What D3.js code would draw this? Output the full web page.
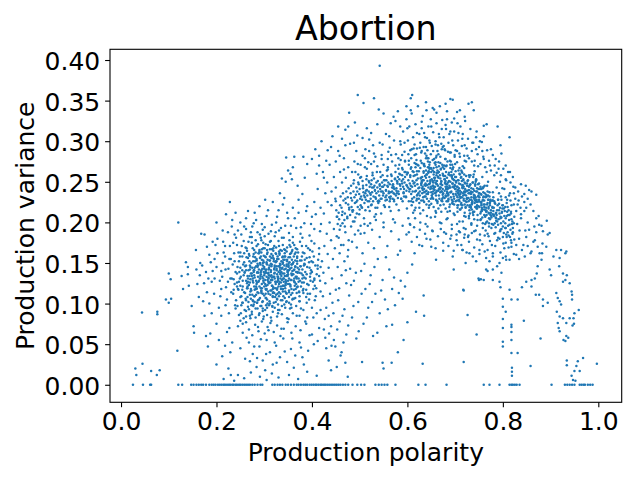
<!DOCTYPE html>
<html>
<head>
<meta charset="utf-8">
<script src="https://cdn.jsdelivr.net/npm/d3@7"></script>
<style>
html,body{margin:0;padding:0;background:#fff;}
svg{display:block;}
text{font-family:"DejaVu Sans",sans-serif;fill:#000;}
</style>
</head>
<body>
<svg id="chart" width="640" height="480"></svg>
<script>
// ---- data ----
const title = "Abortion";
const xLabel = "Production polarity";
const yLabel = "Production variance";
const xTicks = [0, 0.2, 0.4, 0.6, 0.8, 1.0];
const yTicks = [0, 0.05, 0.10, 0.15, 0.20, 0.25, 0.30, 0.35, 0.40];

// points lying on variance = 0 (x values)
const zeroRowX = [0.025,0.046,0.061,0.063,0.12,0.128,0.147,0.152,0.158,0.163,0.168,0.172,0.178,0.185,0.19,0.194,0.198,0.203,0.207,0.211,0.215,0.218,0.222,0.226,0.229,0.233,0.236,0.24,0.243,0.247,0.25,0.254,0.258,0.262,0.266,0.27,0.275,0.28,0.286,0.292,0.296,0.317,0.322,0.328,0.333,0.338,0.345,0.35,0.356,0.362,0.368,0.372,0.377,0.382,0.386,0.39,0.395,0.399,0.403,0.407,0.41,0.414,0.418,0.421,0.425,0.428,0.432,0.436,0.44,0.444,0.448,0.452,0.456,0.46,0.465,0.47,0.476,0.485,0.495,0.503,0.51,0.533,0.54,0.546,0.552,0.558,0.575,0.623,0.638,0.682,0.76,0.772,0.793,0.814,0.818,0.821,0.825,0.829,0.835,0.902,0.93,0.935,0.94,0.945,0.95,0.961,0.965,0.969,0.972,0.978,0.983,0.988];

const leftSparse = [[0.03,0.02],[0.032,0.012],[0.045,0.026],[0.063,0.017],[0.075,0.012],[0.081,0.018],[0.044,0.089],[0.076,0.09],[0.076,0.087],[0.094,0.105],[0.1,0.101],[0.105,0.106],[0.1,0.137],[0.104,0.13],[0.12,0.2],[0.118,0.042],[0.136,0.151],[0.14,0.145],[0.14,0.136],[0.127,0.134],[0.13,0.118],[0.142,0.122],[0.148,0.097],[0.152,0.072],[0.153,0.064],[0.16,0.124],[0.163,0.108],[0.157,0.166],[0.166,0.15],[0.17,0.147],[0.168,0.186],[0.175,0.185],[0.18,0.17],[0.178,0.139],[0.183,0.131],[0.18,0.114],[0.185,0.1],[0.175,0.085],[0.178,0.06],[0.182,0.047],[0.187,0.063],[0.19,0.088],[0.19,0.127],[0.192,0.14],[0.196,0.155],[0.198,0.172],[0.2,0.2],[0.202,0.18],[0.195,0.112],[0.205,0.095],[0.21,0.14],[0.207,0.128],[0.213,0.15],[0.215,0.163],[0.213,0.19],[0.22,0.21],[0.218,0.171],[0.22,0.12],[0.222,0.105],[0.225,0.143],[0.226,0.088],[0.227,0.07],[0.23,0.155],[0.232,0.195],[0.235,0.175],[0.236,0.13],[0.233,0.052],[0.205,0.055],[0.212,0.035],[0.218,0.048],[0.225,0.02],[0.229,0.04],[0.222,0.065],[0.2,0.025],[0.215,0.007],[0.23,0.012],[0.228,0.225],[0.24,0.212],[0.21,0.118],[0.2,0.145],[0.185,0.16],[0.238,0.185],[0.245,0.19],
[0.212,0.133],[0.218,0.158],[0.224,0.127],[0.228,0.171],[0.231,0.114],[0.234,0.148],[0.237,0.162],[0.239,0.098],[0.241,0.181],[0.243,0.121],[0.202,0.162],[0.208,0.109],[0.214,0.176],[0.219,0.142],[0.224,0.188],[0.229,0.131],[0.233,0.203],[0.236,0.117],[0.24,0.139],[0.196,0.131],[0.188,0.151],[0.192,0.176],[0.174,0.125],[0.165,0.135],[0.158,0.142],[0.172,0.103],[0.2,0.075],[0.21,0.085],[0.219,0.098],[0.227,0.155]];

const clusterA = [[0.262,0.205],[0.28,0.212],[0.29,0.22],[0.305,0.208],[0.318,0.225],[0.33,0.215],[0.342,0.23],[0.35,0.205],[0.36,0.218],[0.372,0.212],[0.38,0.235],[0.39,0.22],[0.4,0.207],[0.37,0.245],[0.355,0.26],[0.345,0.25],[0.385,0.255],[0.4,0.278],[0.39,0.272],[0.41,0.26],[0.325,0.2],[0.295,0.198],[0.25,0.2],[0.275,0.195],[0.346,0.28],[0.363,0.281],[0.35,0.264],[0.36,0.268],[0.358,0.253],[0.337,0.254],[0.333,0.236],
[0.252,0.185],[0.262,0.192],[0.27,0.182],[0.278,0.199],[0.286,0.188],[0.293,0.181],[0.301,0.194],[0.309,0.186],[0.316,0.197],[0.322,0.183],[0.331,0.19],[0.337,0.181],[0.344,0.196],[0.352,0.187],[0.36,0.182],[0.367,0.193],[0.376,0.186],[0.384,0.199],[0.395,0.184],[0.405,0.192],
[0.243,0.172],[0.25,0.163],[0.257,0.177],[0.263,0.168],[0.268,0.161],[0.274,0.175],[0.279,0.166],[0.284,0.171],[0.289,0.162],[0.294,0.178],[0.298,0.168],[0.303,0.173],[0.307,0.163],[0.312,0.176],[0.316,0.167],[0.321,0.171],[0.325,0.161],[0.33,0.177],[0.334,0.166],[0.339,0.172],[0.343,0.162],[0.348,0.169],[0.353,0.178],[0.358,0.164],[0.363,0.172],[0.369,0.167],[0.375,0.176],[0.381,0.163],[0.388,0.171],[0.396,0.166],[0.405,0.174],[0.415,0.168],
[0.238,0.152],[0.244,0.145],[0.249,0.158],[0.254,0.141],[0.258,0.151],[0.262,0.147],[0.266,0.156],[0.27,0.142],[0.273,0.15],[0.277,0.158],[0.28,0.144],[0.284,0.153],[0.287,0.147],[0.291,0.156],[0.294,0.141],[0.297,0.15],[0.3,0.145],[0.303,0.157],[0.306,0.148],[0.309,0.142],[0.312,0.153],[0.315,0.146],[0.318,0.159],[0.321,0.143],[0.324,0.151],[0.327,0.155],[0.33,0.146],[0.333,0.141],[0.336,0.152],[0.339,0.158],[0.342,0.147],[0.345,0.143],[0.348,0.154],[0.351,0.149],[0.354,0.157],[0.357,0.144],[0.361,0.151],[0.365,0.146],[0.369,0.158],[0.373,0.142],[0.378,0.153],[0.383,0.147],[0.389,0.156],[0.395,0.144],[0.402,0.151],[0.412,0.147],
[0.232,0.131],[0.238,0.124],[0.243,0.137],[0.247,0.127],[0.251,0.133],[0.255,0.121],[0.259,0.138],[0.262,0.128],[0.265,0.134],[0.268,0.123],[0.271,0.13],[0.274,0.137],[0.277,0.126],[0.28,0.132],[0.283,0.121],[0.286,0.139],[0.289,0.128],[0.292,0.134],[0.295,0.124],[0.298,0.131],[0.301,0.137],[0.304,0.122],[0.307,0.129],[0.31,0.135],[0.313,0.126],[0.316,0.132],[0.319,0.12],[0.322,0.138],[0.325,0.127],[0.328,0.133],[0.331,0.124],[0.334,0.136],[0.337,0.129],[0.34,0.122],[0.343,0.134],[0.346,0.127],[0.349,0.139],[0.352,0.131],[0.355,0.123],[0.358,0.136],[0.362,0.128],[0.366,0.133],[0.37,0.121],[0.374,0.138],[0.379,0.126],[0.384,0.132],[0.39,0.124],[0.397,0.137],[0.405,0.129],[0.415,0.134],
[0.235,0.112],[0.241,0.104],[0.246,0.117],[0.25,0.108],[0.254,0.101],[0.258,0.114],[0.261,0.106],[0.264,0.119],[0.267,0.102],[0.27,0.111],[0.273,0.116],[0.276,0.104],[0.279,0.109],[0.282,0.118],[0.285,0.101],[0.288,0.113],[0.291,0.107],[0.294,0.115],[0.297,0.103],[0.3,0.11],[0.303,0.118],[0.306,0.105],[0.309,0.112],[0.312,0.1],[0.315,0.116],[0.318,0.108],[0.321,0.113],[0.324,0.102],[0.327,0.117],[0.331,0.109],[0.335,0.104],[0.339,0.115],[0.343,0.107],[0.347,0.112],[0.352,0.101],[0.357,0.118],[0.362,0.106],[0.368,0.113],[0.374,0.103],[0.381,0.116],[0.388,0.108],[0.396,0.112],[0.406,0.104],[0.418,0.115],
[0.24,0.094],[0.247,0.086],[0.252,0.098],[0.257,0.082],[0.262,0.091],[0.266,0.096],[0.27,0.085],[0.274,0.09],[0.278,0.099],[0.282,0.083],[0.286,0.094],[0.29,0.088],[0.294,0.097],[0.298,0.081],[0.302,0.092],[0.306,0.086],[0.31,0.098],[0.314,0.083],[0.318,0.09],[0.322,0.095],[0.327,0.084],[0.332,0.092],[0.337,0.087],[0.342,0.099],[0.348,0.082],[0.354,0.094],[0.36,0.088],[0.367,0.097],[0.374,0.085],[0.382,0.092],[0.39,0.083],[0.4,0.095],[0.41,0.088],[0.25,0.079],
[0.245,0.072],[0.255,0.064],[0.262,0.077],[0.268,0.068],[0.275,0.061],[0.281,0.074],[0.288,0.066],[0.295,0.078],[0.301,0.063],[0.307,0.071],[0.313,0.076],[0.32,0.065],[0.327,0.073],[0.334,0.06],[0.341,0.069],[0.349,0.077],[0.357,0.064],[0.366,0.072],[0.376,0.067],[0.388,0.075],[0.4,0.062],[0.415,0.07],
[0.25,0.045],[0.26,0.032],[0.268,0.052],[0.276,0.038],[0.284,0.022],[0.29,0.047],[0.297,0.03],[0.305,0.055],[0.312,0.04],[0.318,0.025],[0.325,0.048],[0.333,0.034],[0.34,0.057],[0.348,0.028],[0.356,0.044],[0.365,0.036],[0.374,0.052],[0.383,0.025],[0.392,0.042],[0.404,0.05],
[0.237,0.005],[0.245,0.012],[0.258,0.008],[0.272,0.015],[0.291,0.01],[0.305,0.006],[0.316,0.014],[0.33,0.009],[0.352,0.012],[0.371,0.007],[0.39,0.016],[0.41,0.011]];

const coreA = [[0.271,0.145],[0.276,0.128],[0.281,0.152],[0.283,0.111],[0.288,0.138],[0.29,0.164],[0.293,0.119],[0.296,0.143],[0.299,0.126],[0.302,0.158],[0.305,0.133],[0.308,0.115],[0.311,0.147],[0.314,0.139],[0.317,0.122],[0.32,0.155],[0.323,0.108],[0.326,0.141],[0.329,0.129],[0.332,0.16],[0.335,0.118],[0.338,0.144],[0.341,0.131],[0.344,0.115],[0.347,0.148],[0.35,0.136],[0.353,0.124],[0.356,0.162],[0.359,0.14],[0.362,0.117],[0.365,0.153],[0.368,0.131],[0.272,0.118],[0.278,0.141],[0.285,0.126],[0.291,0.15],[0.297,0.112],[0.303,0.14],[0.309,0.127],[0.315,0.161],[0.321,0.133],[0.327,0.119],[0.333,0.149],[0.339,0.137],[0.345,0.125],[0.351,0.157],[0.357,0.129],[0.363,0.142],[0.369,0.12],[0.274,0.134],[0.28,0.102],[0.286,0.145],[0.292,0.131],[0.298,0.153],[0.304,0.117],[0.31,0.143],[0.316,0.129],[0.322,0.147],[0.328,0.112],[0.334,0.138],[0.34,0.154],[0.346,0.134],[0.352,0.114],[0.358,0.148],[0.364,0.126],[0.37,0.139],[0.277,0.097],[0.287,0.104],[0.297,0.094],[0.307,0.1],[0.317,0.096],[0.327,0.105],[0.337,0.097],[0.347,0.103],[0.357,0.095],[0.282,0.163],[0.295,0.167],[0.306,0.166],[0.319,0.168],[0.331,0.164],[0.342,0.167],[0.355,0.17],[0.366,0.163],[0.3,0.121],[0.313,0.134],[0.326,0.152],[0.339,0.122],[0.352,0.141],[0.318,0.113],[0.33,0.139],[0.343,0.158],[0.305,0.151],[0.293,0.139],[0.284,0.118],[0.36,0.106],[0.373,0.114],[0.376,0.146],[0.38,0.131],[0.265,0.121],[0.262,0.141]];

const denseA = [[0.245,0.118],[0.247,0.152],[0.244,0.097],[0.248,0.139],[0.246,0.163],[0.243,0.126],
[0.252,0.109],[0.25,0.144],[0.253,0.171],[0.249,0.131],[0.251,0.088],[0.254,0.158],[0.25,0.122],
[0.257,0.135],[0.255,0.101],[0.258,0.162],[0.254,0.117],[0.256,0.148],[0.259,0.092],[0.255,0.128],
[0.26,0.113],[0.263,0.157],[0.259,0.139],[0.262,0.084],[0.261,0.169],[0.264,0.125],[0.26,0.146],[0.262,0.104],
[0.267,0.141],[0.265,0.119],[0.268,0.093],[0.264,0.165],[0.266,0.131],[0.269,0.152],[0.265,0.108],[0.267,0.176],[0.266,0.127],
[0.27,0.126],[0.273,0.098],[0.269,0.159],[0.272,0.137],[0.271,0.115],[0.274,0.182],[0.27,0.147],[0.272,0.106],[0.269,0.134],
[0.277,0.152],[0.275,0.111],[0.278,0.139],[0.274,0.087],[0.276,0.168],[0.279,0.121],[0.275,0.144],[0.277,0.103],[0.276,0.131],[0.278,0.161],
[0.28,0.117],[0.283,0.146],[0.279,0.135],[0.282,0.094],[0.281,0.157],[0.284,0.124],[0.28,0.109],[0.282,0.178],[0.279,0.141],[0.283,0.128],
[0.287,0.133],[0.285,0.101],[0.288,0.162],[0.284,0.119],[0.286,0.149],[0.289,0.086],[0.285,0.138],[0.287,0.173],[0.286,0.114],[0.288,0.127],[0.284,0.155],
[0.29,0.121],[0.293,0.158],[0.289,0.142],[0.292,0.097],[0.291,0.131],[0.294,0.113],[0.29,0.166],[0.292,0.148],[0.289,0.105],[0.293,0.136],[0.291,0.185],
[0.297,0.147],[0.295,0.119],[0.298,0.128],[0.294,0.163],[0.296,0.102],[0.299,0.139],[0.295,0.154],[0.297,0.091],[0.296,0.133],[0.298,0.175],[0.294,0.116],
[0.3,0.135],[0.303,0.112],[0.299,0.151],[0.302,0.124],[0.301,0.168],[0.304,0.098],[0.3,0.143],[0.302,0.129],[0.299,0.159],[0.303,0.107],[0.301,0.183],[0.304,0.138],
[0.307,0.123],[0.305,0.149],[0.308,0.137],[0.304,0.107],[0.306,0.161],[0.309,0.131],[0.305,0.118],[0.307,0.154],[0.306,0.095],[0.308,0.172],[0.304,0.142],[0.309,0.127],
[0.31,0.144],[0.313,0.116],[0.309,0.132],[0.312,0.158],[0.311,0.103],[0.314,0.149],[0.31,0.125],[0.312,0.167],[0.309,0.138],[0.313,0.111],[0.311,0.153],[0.314,0.129],
[0.317,0.129],[0.315,0.156],[0.318,0.109],[0.314,0.141],[0.316,0.122],[0.319,0.165],[0.315,0.135],[0.317,0.097],[0.316,0.148],[0.318,0.118],[0.314,0.177],[0.319,0.133],
[0.32,0.152],[0.323,0.127],[0.319,0.114],[0.322,0.145],[0.321,0.137],[0.324,0.162],[0.32,0.101],[0.322,0.131],[0.319,0.156],[0.323,0.119],[0.321,0.142],[0.324,0.188],
[0.327,0.136],[0.325,0.111],[0.328,0.158],[0.324,0.124],[0.326,0.146],[0.329,0.131],[0.325,0.169],[0.327,0.106],[0.326,0.143],[0.328,0.127],[0.324,0.152],[0.329,0.092],
[0.33,0.121],[0.333,0.147],[0.329,0.133],[0.332,0.162],[0.331,0.114],[0.334,0.138],[0.33,0.155],[0.332,0.127],[0.329,0.099],[0.333,0.144],[0.331,0.171],[0.334,0.131],
[0.337,0.143],[0.335,0.126],[0.338,0.157],[0.334,0.112],[0.336,0.139],[0.339,0.151],[0.335,0.121],[0.337,0.165],[0.336,0.134],[0.338,0.104],[0.334,0.148],[0.339,0.118],
[0.34,0.131],[0.343,0.154],[0.339,0.118],[0.342,0.142],[0.341,0.127],[0.344,0.166],[0.34,0.109],[0.342,0.137],[0.339,0.149],[0.343,0.122],[0.341,0.181],[0.344,0.095],
[0.347,0.146],[0.345,0.123],[0.348,0.135],[0.344,0.158],[0.346,0.113],[0.349,0.141],[0.345,0.129],[0.347,0.164],[0.346,0.102],[0.348,0.152],[0.344,0.119],
[0.35,0.128],[0.353,0.151],[0.349,0.139],[0.352,0.116],[0.351,0.145],[0.354,0.161],[0.35,0.124],[0.352,0.108],[0.349,0.134],[0.353,0.172],[0.351,0.147],
[0.357,0.137],[0.355,0.121],[0.358,0.154],[0.354,0.143],[0.356,0.111],[0.359,0.166],[0.355,0.129],[0.357,0.148],[0.356,0.099],[0.358,0.135],
[0.36,0.149],[0.363,0.127],[0.359,0.113],[0.362,0.158],[0.361,0.136],[0.364,0.122],[0.36,0.175],[0.362,0.141],[0.359,0.105],[0.363,0.131],
[0.367,0.124],[0.365,0.145],[0.368,0.133],[0.364,0.161],[0.366,0.118],[0.369,0.152],[0.365,0.107],[0.367,0.139],[0.366,0.168],
[0.37,0.138],[0.373,0.115],[0.369,0.149],[0.372,0.127],[0.371,0.163],[0.374,0.103],[0.37,0.144],[0.372,0.131],[0.369,0.156],
[0.377,0.121],[0.375,0.153],[0.378,0.137],[0.374,0.109],[0.376,0.146],[0.379,0.171],[0.375,0.128],[0.377,0.094],
[0.38,0.142],[0.383,0.126],[0.379,0.158],[0.382,0.113],[0.381,0.135],[0.384,0.149],[0.38,0.181],[0.382,0.118],
[0.387,0.131],[0.385,0.148],[0.388,0.117],[0.384,0.162],[0.386,0.139],[0.389,0.101],[0.385,0.154],
[0.39,0.145],[0.393,0.123],[0.389,0.136],[0.392,0.168],[0.391,0.112],[0.394,0.151],
[0.397,0.128],[0.395,0.157],[0.398,0.141],[0.394,0.105],[0.396,0.133],[0.399,0.177],
[0.4,0.139],[0.403,0.118],[0.399,0.152],[0.402,0.127],[0.401,0.164],
[0.407,0.147],[0.405,0.131],[0.408,0.109],[0.404,0.158],[0.406,0.122],
[0.41,0.136],[0.413,0.154],[0.409,0.119],[0.412,0.143],
[0.417,0.128],[0.415,0.161],[0.418,0.145],
[0.255,0.075],[0.263,0.058],[0.271,0.082],[0.279,0.047],[0.287,0.071],[0.293,0.056],[0.299,0.084],[0.304,0.038],[0.309,0.067],[0.315,0.079],[0.322,0.052],[0.329,0.088],[0.336,0.069],[0.343,0.041],[0.351,0.081],[0.359,0.057],[0.368,0.085],[0.377,0.046],[0.386,0.078],[0.395,0.061],[0.403,0.083],[0.412,0.054],[0.285,0.033],[0.302,0.018],[0.326,0.027],[0.362,0.021],[0.38,0.034],[0.27,0.029],
[0.258,0.195],[0.272,0.188],[0.283,0.203],[0.297,0.191],[0.308,0.215],[0.314,0.189],[0.327,0.207],[0.335,0.193],[0.348,0.212],[0.356,0.196],[0.364,0.205],[0.377,0.194],[0.388,0.214],[0.398,0.198],[0.408,0.21],[0.417,0.189],[0.266,0.214],[0.302,0.228],[0.339,0.222],[0.372,0.228]];

const shoulderA = [[0.421,0.152],[0.424,0.138],[0.426,0.171],[0.428,0.125],[0.431,0.186],[0.433,0.161],[0.435,0.144],[0.437,0.2],[0.44,0.178],[0.442,0.131],[0.444,0.155],[0.446,0.192],[0.448,0.168],[0.45,0.117],[0.452,0.207],[0.454,0.145],[0.456,0.181],[0.458,0.162],[0.46,0.196],[0.462,0.135],[0.464,0.213],[0.466,0.172],[0.468,0.152],[0.47,0.188],[0.472,0.125],[0.474,0.205],[0.476,0.166],[0.478,0.218],[0.48,0.143],[0.482,0.195],[0.423,0.109],[0.43,0.095],[0.438,0.112],[0.445,0.088],[0.455,0.104],[0.419,0.198],[0.425,0.211],[0.433,0.225],[0.441,0.238],[0.449,0.229]];

const midLow = [[0.425,0.068],[0.43,0.045],[0.435,0.03],[0.44,0.072],[0.446,0.055],[0.452,0.022],[0.458,0.078],[0.462,0.04],[0.468,0.093],[0.472,0.062],[0.478,0.11],[0.484,0.083],[0.488,0.128],[0.493,0.057],[0.497,0.102],[0.503,0.14],[0.508,0.075],[0.512,0.118],[0.518,0.095],[0.523,0.135],[0.528,0.06],[0.533,0.112],[0.538,0.155],[0.542,0.088],[0.548,0.129],[0.553,0.105],[0.556,0.072],[0.562,0.142],[0.568,0.118],[0.574,0.098],[0.58,0.16],[0.586,0.128],[0.592,0.055],[0.6,0.138],[0.61,0.148],[0.618,0.09],[0.47,0.027],[0.505,0.028],[0.55,0.02],[0.58,0.04],[0.44,0.018],[0.475,0.01],[0.548,0.027],[0.567,0.027],[0.537,0.064],[0.568,0.074],[0.6,0.077],[0.59,0.106],[0.632,0.026],[0.635,0.085],[0.634,0.11],
[0.418,0.092],[0.427,0.081],[0.436,0.063],[0.443,0.101],[0.449,0.047],[0.457,0.119],[0.464,0.085],[0.471,0.141],[0.476,0.073],[0.482,0.123],[0.487,0.097],[0.492,0.138],[0.498,0.066],[0.504,0.112],[0.51,0.149],[0.515,0.083],[0.521,0.124],[0.526,0.102],[0.531,0.145],[0.545,0.116],[0.559,0.093],[0.572,0.132],[0.582,0.113],[0.595,0.121],[0.428,0.058],[0.435,0.085],[0.441,0.048],[0.453,0.068],[0.46,0.036],[0.466,0.052]];

const bridge = [[0.482,0.23],[0.485,0.215],[0.487,0.248],[0.489,0.201],[0.491,0.262],[0.493,0.225],[0.495,0.238],[0.497,0.19],[0.499,0.21],[0.501,0.255],[0.503,0.232],[0.505,0.218],[0.507,0.245],[0.509,0.205],[0.511,0.268],[0.513,0.228],[0.515,0.24],[0.517,0.196],[0.519,0.251],[0.521,0.214],[0.523,0.234],[0.525,0.222],[0.527,0.258],[0.529,0.243],[0.531,0.207],[0.533,0.231],[0.535,0.249],[0.537,0.218],[0.539,0.238],[0.541,0.226],[0.543,0.262],[0.545,0.211],[0.547,0.244],[0.549,0.233],[0.551,0.252],[0.553,0.219],[0.555,0.24],[0.557,0.228],[0.559,0.265],[0.561,0.236],[0.563,0.247],[0.565,0.214],[0.567,0.257],[0.569,0.229],[0.571,0.242],[0.573,0.235],[0.575,0.27],[0.577,0.222],[0.579,0.25],[0.581,0.238],[0.583,0.26],[0.585,0.245],[0.587,0.229],[0.589,0.267],[0.591,0.253],[0.593,0.241],[0.595,0.275],[0.597,0.232],[0.599,0.259],
[0.484,0.176],[0.49,0.185],[0.496,0.272],[0.502,0.196],[0.506,0.282],[0.51,0.187],[0.514,0.253],[0.518,0.274],[0.522,0.199],[0.526,0.237],[0.53,0.285],[0.534,0.21],[0.538,0.226],[0.542,0.245],[0.546,0.278],[0.55,0.2],[0.554,0.231],[0.558,0.245],[0.562,0.219],[0.566,0.283],[0.57,0.204],[0.574,0.253],[0.578,0.236],[0.582,0.215],[0.586,0.277],[0.59,0.226],[0.594,0.262],[0.598,0.246],[0.52,0.226],[0.532,0.24],[0.544,0.229],[0.556,0.252],[0.568,0.238],[0.58,0.23],[0.592,0.236],[0.5,0.241],[0.512,0.236],[0.524,0.247],[0.548,0.238],[0.572,0.226],
[0.452,0.183],[0.461,0.172],[0.469,0.195],[0.477,0.178],[0.486,0.201],[0.494,0.169],[0.502,0.186],[0.51,0.198],[0.518,0.175],[0.526,0.191],[0.534,0.203],[0.542,0.182],[0.55,0.194],[0.558,0.171],[0.566,0.189],[0.574,0.2],[0.582,0.179],[0.59,0.196],[0.598,0.185],[0.506,0.162],[0.53,0.168],[0.555,0.157],[0.585,0.165],[0.475,0.158]];

const denseBridge = [[0.451,0.215],[0.454,0.198],[0.45,0.226],[0.453,0.207],
[0.459,0.221],[0.457,0.204],[0.46,0.232],[0.456,0.212],[0.458,0.191],
[0.463,0.209],[0.466,0.227],[0.462,0.218],[0.465,0.236],[0.464,0.199],
[0.471,0.224],[0.469,0.211],[0.472,0.238],[0.468,0.203],[0.47,0.229],
[0.475,0.231],[0.478,0.216],[0.474,0.207],[0.477,0.242],[0.476,0.222],
[0.483,0.219],[0.481,0.236],[0.484,0.227],[0.48,0.209],[0.482,0.245],[0.485,0.213],
[0.487,0.238],[0.49,0.224],[0.486,0.215],[0.489,0.231],[0.488,0.252],[0.491,0.206],
[0.495,0.227],[0.493,0.243],[0.496,0.219],[0.492,0.234],[0.494,0.211],[0.497,0.249],
[0.499,0.235],[0.502,0.221],[0.498,0.247],[0.501,0.229],[0.5,0.216],[0.503,0.256],
[0.507,0.242],[0.505,0.228],[0.508,0.237],[0.504,0.219],[0.506,0.251],[0.509,0.233],
[0.511,0.231],[0.514,0.246],[0.51,0.224],[0.513,0.239],[0.512,0.215],[0.515,0.257],
[0.519,0.238],[0.517,0.226],[0.52,0.249],[0.516,0.233],[0.518,0.219],[0.521,0.244],
[0.523,0.229],[0.526,0.243],[0.522,0.236],[0.525,0.252],[0.524,0.221],[0.527,0.261],
[0.531,0.245],[0.529,0.232],[0.532,0.239],[0.528,0.226],[0.53,0.254],[0.533,0.218],
[0.535,0.236],[0.538,0.251],[0.534,0.229],[0.537,0.243],[0.536,0.262],[0.539,0.224],
[0.543,0.241],[0.541,0.233],[0.544,0.256],[0.54,0.227],[0.542,0.247],[0.545,0.238],
[0.547,0.249],[0.55,0.236],[0.546,0.229],[0.549,0.244],[0.548,0.258],[0.551,0.221],
[0.555,0.239],[0.553,0.252],[0.556,0.233],[0.552,0.246],[0.554,0.227],[0.557,0.264],
[0.559,0.244],[0.562,0.231],[0.558,0.257],[0.561,0.238],[0.56,0.249],[0.563,0.226],[0.559,0.268],
[0.567,0.251],[0.565,0.237],[0.568,0.243],[0.564,0.229],[0.566,0.259],[0.569,0.246],[0.565,0.232],
[0.571,0.236],[0.574,0.254],[0.57,0.247],[0.573,0.241],[0.572,0.228],[0.575,0.262],[0.571,0.244],
[0.579,0.248],[0.577,0.239],[0.58,0.256],[0.576,0.233],[0.578,0.251],[0.581,0.266],[0.577,0.242],
[0.583,0.253],[0.586,0.241],[0.582,0.235],[0.585,0.259],[0.584,0.247],[0.587,0.229],[0.583,0.271],
[0.591,0.244],[0.589,0.258],[0.592,0.237],[0.588,0.251],[0.59,0.265],[0.593,0.232],[0.589,0.248],
[0.595,0.256],[0.598,0.239],[0.594,0.249],[0.597,0.231],[0.596,0.262],[0.599,0.245],[0.595,0.276]];

const midHigh = [[0.542,0.393],[0.496,0.357],[0.508,0.347],[0.61,0.357],[0.607,0.353],[0.598,0.343],[0.443,0.306],[0.47,0.314],[0.476,0.318],[0.433,0.289],[0.407,0.29],[0.382,0.281],[0.537,0.321],[0.55,0.334],[0.571,0.33],[0.575,0.325],[0.607,0.338],[0.6,0.316],[0.52,0.302],[0.524,0.31],[0.495,0.307],[0.488,0.298],[0.458,0.282],[0.45,0.275],[0.548,0.296],[0.562,0.306],[0.585,0.3],[0.467,0.265],[0.425,0.255],[0.415,0.27],[0.53,0.275],[0.512,0.29],[0.47,0.295],[0.56,0.287],[0.42,0.3],
[0.405,0.225],[0.412,0.241],[0.418,0.218],[0.423,0.262],[0.428,0.236],[0.432,0.249],[0.437,0.271],[0.441,0.221],[0.446,0.256],[0.45,0.243],[0.455,0.288],[0.459,0.262],[0.463,0.249],[0.467,0.279],[0.471,0.255],[0.476,0.268],[0.48,0.297],[0.484,0.262],[0.489,0.275],[0.493,0.288],[0.497,0.259],[0.502,0.271],[0.506,0.304],[0.511,0.279],[0.515,0.266],[0.52,0.288],[0.524,0.272],[0.528,0.295],[0.533,0.281],[0.537,0.269],[0.542,0.298],[0.546,0.283],[0.55,0.271],[0.555,0.309],[0.559,0.278],[0.563,0.292],[0.568,0.275],[0.572,0.301],[0.576,0.284],[0.581,0.279],[0.585,0.318],[0.589,0.283],[0.594,0.298],[0.463,0.303],[0.49,0.323],[0.515,0.316],[0.54,0.339],[0.565,0.322],[0.58,0.337],[0.53,0.353],[0.478,0.335],[0.455,0.318],[0.43,0.276],[0.415,0.282],[0.44,0.293]];

const clusterB = [[0.602,0.205],[0.617,0.218],[0.608,0.226],[0.621,0.234],[0.604,0.241],[0.613,0.248],[0.619,0.252],[0.606,0.258],[0.611,0.263],[0.623,0.27],[0.603,0.276],[0.615,0.283],[0.609,0.29],[0.62,0.229],[0.607,0.245],[0.616,0.238],[0.601,0.261],[0.612,0.212],[0.618,0.272],[0.605,0.198],
[0.627,0.2],[0.641,0.208],[0.633,0.215],[0.646,0.221],[0.629,0.227],[0.638,0.232],[0.644,0.237],[0.631,0.242],[0.636,0.246],[0.648,0.25],[0.628,0.254],[0.64,0.259],[0.634,0.263],[0.645,0.268],[0.63,0.273],[0.642,0.279],[0.637,0.285],[0.626,0.292],[0.647,0.298],[0.632,0.24],[0.643,0.235],[0.639,0.255],[0.629,0.248],[0.646,0.266],[0.635,0.225],[0.641,0.304],
[0.652,0.19],[0.668,0.2],[0.658,0.207],[0.671,0.213],[0.655,0.219],[0.663,0.224],[0.673,0.229],[0.651,0.233],[0.66,0.237],[0.666,0.241],[0.654,0.245],[0.67,0.248],[0.657,0.252],[0.664,0.256],[0.674,0.26],[0.653,0.264],[0.661,0.268],[0.669,0.273],[0.656,0.278],[0.665,0.284],[0.672,0.29],[0.659,0.296],[0.667,0.305],[0.662,0.239],[0.656,0.243],[0.671,0.25],[0.653,0.235],[0.668,0.258],[0.661,0.227],[0.65,0.262],
[0.677,0.188],[0.693,0.197],[0.684,0.205],[0.697,0.211],[0.68,0.217],[0.689,0.222],[0.695,0.226],[0.678,0.23],[0.686,0.234],[0.692,0.238],[0.681,0.241],[0.698,0.244],[0.683,0.247],[0.69,0.25],[0.696,0.253],[0.679,0.257],[0.687,0.261],[0.694,0.265],[0.682,0.27],[0.691,0.275],[0.699,0.281],[0.685,0.287],[0.676,0.294],[0.694,0.301],[0.688,0.243],[0.683,0.236],[0.697,0.232],[0.679,0.249],[0.692,0.258],[0.686,0.228],[0.69,0.312],[0.68,0.32],
[0.703,0.185],[0.718,0.193],[0.709,0.201],[0.722,0.207],[0.705,0.213],[0.714,0.218],[0.72,0.222],[0.701,0.226],[0.711,0.23],[0.717,0.233],[0.706,0.236],[0.724,0.239],[0.708,0.242],[0.715,0.245],[0.721,0.248],[0.702,0.251],[0.712,0.255],[0.719,0.259],[0.707,0.264],[0.716,0.269],[0.723,0.275],[0.71,0.281],[0.704,0.288],[0.72,0.295],[0.713,0.237],[0.708,0.228],[0.722,0.226],[0.704,0.244],[0.717,0.252],[0.711,0.216],[0.715,0.303],[0.707,0.31],
[0.727,0.182],[0.743,0.19],[0.734,0.197],[0.747,0.203],[0.729,0.208],[0.738,0.213],[0.745,0.217],[0.731,0.221],[0.736,0.224],[0.742,0.227],[0.728,0.23],[0.749,0.233],[0.733,0.236],[0.74,0.239],[0.746,0.242],[0.73,0.245],[0.737,0.249],[0.744,0.253],[0.732,0.258],[0.741,0.263],[0.748,0.269],[0.735,0.275],[0.726,0.282],[0.744,0.29],[0.739,0.231],[0.733,0.219],[0.747,0.225],[0.729,0.24],[0.742,0.247],[0.736,0.298],
[0.752,0.178],[0.768,0.186],[0.758,0.193],[0.771,0.199],[0.754,0.204],[0.763,0.208],[0.77,0.212],[0.756,0.216],[0.761,0.219],[0.767,0.222],[0.753,0.225],[0.774,0.228],[0.759,0.231],[0.765,0.234],[0.772,0.237],[0.755,0.241],[0.762,0.245],[0.769,0.25],[0.757,0.256],[0.766,0.262],[0.773,0.27],[0.76,0.278],[0.764,0.215],[0.758,0.227],[0.771,0.205],[0.751,0.236],
[0.777,0.172],[0.793,0.18],[0.784,0.187],[0.797,0.192],[0.78,0.197],[0.788,0.201],[0.795,0.205],[0.781,0.209],[0.786,0.212],[0.792,0.215],[0.778,0.218],[0.799,0.221],[0.783,0.224],[0.79,0.228],[0.796,0.232],[0.779,0.237],[0.787,0.243],[0.794,0.25],[0.782,0.258],[0.791,0.266],[0.785,0.206],[0.798,0.213],
[0.803,0.168],[0.818,0.175],[0.808,0.182],[0.821,0.188],[0.805,0.193],[0.814,0.197],[0.82,0.201],[0.806,0.205],[0.811,0.209],[0.817,0.213],[0.802,0.217],[0.823,0.222],[0.809,0.228],[0.815,0.236],[0.822,0.244],[0.807,0.252],
[0.828,0.16],[0.843,0.172],[0.834,0.18],[0.847,0.19],[0.83,0.198],[0.838,0.205],[0.845,0.214],[0.831,0.222],[0.84,0.232],[0.848,0.245],[0.838,0.21],[0.845,0.225],[0.852,0.2],[0.835,0.19],[0.855,0.24],[0.849,0.218]];

const coreB = [[0.632,0.252],[0.638,0.238],[0.644,0.261],[0.649,0.244],[0.654,0.229],[0.658,0.255],[0.662,0.247],[0.666,0.233],[0.67,0.266],[0.674,0.241],[0.678,0.253],[0.682,0.226],[0.686,0.259],[0.69,0.237],[0.694,0.248],[0.698,0.222],[0.702,0.256],[0.706,0.24],[0.71,0.232],[0.714,0.262],[0.718,0.244],[0.722,0.219],[0.726,0.251],[0.73,0.236],[0.734,0.228],[0.738,0.256],[0.742,0.219],[0.746,0.238],[0.75,0.228],[0.754,0.213],[0.758,0.242],[0.762,0.222],[0.766,0.232],[0.77,0.217],[0.774,0.209],[0.778,0.227],[0.635,0.27],[0.641,0.229],[0.647,0.274],[0.653,0.251],[0.659,0.271],[0.665,0.217],[0.671,0.238],[0.677,0.27],[0.683,0.244],[0.689,0.214],[0.695,0.266],[0.701,0.235],[0.707,0.252],[0.713,0.224],[0.719,0.267],[0.725,0.23],[0.731,0.246],[0.737,0.212],[0.743,0.25],[0.749,0.22],[0.755,0.234],[0.761,0.209],[0.767,0.245],[0.773,0.224],[0.779,0.21],[0.657,0.24],[0.669,0.254],[0.681,0.232],[0.693,0.257],[0.705,0.221],[0.717,0.236],[0.729,0.258],[0.741,0.23],[0.753,0.244],[0.765,0.2],[0.645,0.247],[0.661,0.261],[0.673,0.226],[0.685,0.249],[0.697,0.243],[0.709,0.26],[0.721,0.238],[0.733,0.218],[0.745,0.226],[0.757,0.216],[0.769,0.228],[0.64,0.282],[0.66,0.28],[0.68,0.278],[0.7,0.272],[0.72,0.276],[0.74,0.27]];

const denseB = [[0.601,0.243],[0.603,0.226],[0.6,0.261],[0.604,0.238],[0.602,0.252],[0.599,0.217],[0.603,0.271],
[0.608,0.235],[0.606,0.256],[0.609,0.221],[0.605,0.248],[0.607,0.266],[0.61,0.229],[0.606,0.241],[0.608,0.279],
[0.611,0.251],[0.614,0.231],[0.61,0.244],[0.613,0.262],[0.612,0.225],[0.615,0.273],[0.611,0.238],[0.613,0.257],
[0.618,0.239],[0.616,0.258],[0.619,0.227],[0.615,0.249],[0.617,0.268],[0.62,0.233],[0.616,0.245],[0.618,0.284],[0.615,0.215],
[0.621,0.247],[0.624,0.229],[0.62,0.263],[0.623,0.236],[0.622,0.254],[0.625,0.218],[0.621,0.271],[0.623,0.242],[0.62,0.259],
[0.628,0.255],[0.626,0.238],[0.629,0.246],[0.625,0.224],[0.627,0.267],[0.63,0.251],[0.626,0.233],[0.628,0.276],[0.625,0.243],
[0.631,0.236],[0.634,0.261],[0.63,0.249],[0.633,0.227],[0.632,0.244],[0.635,0.272],[0.631,0.256],[0.633,0.231],[0.63,0.288],[0.634,0.252],
[0.638,0.248],[0.636,0.232],[0.639,0.264],[0.635,0.241],[0.637,0.257],[0.64,0.222],[0.636,0.269],[0.638,0.245],[0.635,0.237],[0.639,0.279],
[0.641,0.259],[0.644,0.243],[0.64,0.235],[0.643,0.268],[0.642,0.251],[0.645,0.226],[0.641,0.246],[0.643,0.275],[0.64,0.239],[0.644,0.262],
[0.648,0.241],[0.646,0.256],[0.649,0.229],[0.645,0.263],[0.647,0.248],[0.65,0.237],[0.646,0.271],[0.648,0.252],[0.645,0.218],[0.649,0.284],
[0.651,0.253],[0.654,0.238],[0.65,0.266],[0.653,0.245],[0.652,0.231],[0.655,0.259],[0.651,0.242],[0.653,0.277],[0.65,0.223],[0.654,0.249],
[0.658,0.236],[0.656,0.262],[0.659,0.249],[0.655,0.241],[0.657,0.273],[0.66,0.228],[0.656,0.255],[0.658,0.244],[0.655,0.267],[0.659,0.214],
[0.661,0.258],[0.664,0.245],[0.66,0.233],[0.663,0.264],[0.662,0.251],[0.665,0.239],[0.661,0.282],[0.663,0.226],[0.66,0.248],[0.664,0.261],
[0.668,0.243],[0.666,0.269],[0.669,0.237],[0.665,0.255],[0.667,0.229],[0.67,0.247],[0.666,0.262],[0.668,0.241],[0.665,0.274],[0.669,0.221],
[0.671,0.251],[0.674,0.234],[0.67,0.265],[0.673,0.246],[0.672,0.238],[0.675,0.258],[0.671,0.227],[0.673,0.271],[0.67,0.243],[0.674,0.293],
[0.678,0.239],[0.676,0.257],[0.679,0.248],[0.675,0.231],[0.677,0.266],[0.68,0.244],[0.676,0.222],[0.678,0.253],[0.675,0.236],[0.679,0.278],
[0.681,0.262],[0.684,0.241],[0.68,0.233],[0.683,0.255],[0.682,0.247],[0.685,0.226],[0.681,0.269],[0.683,0.238],[0.68,0.251],[0.684,0.213],
[0.688,0.245],[0.686,0.229],[0.689,0.258],[0.685,0.236],[0.687,0.251],[0.69,0.267],[0.686,0.242],[0.688,0.219],[0.685,0.233],[0.689,0.276],
[0.691,0.237],[0.694,0.254],[0.69,0.243],[0.693,0.228],[0.692,0.262],[0.695,0.248],[0.691,0.231],[0.693,0.256],[0.69,0.271],[0.694,0.224],
[0.698,0.252],[0.696,0.235],[0.699,0.246],[0.695,0.223],[0.697,0.259],[0.7,0.241],[0.696,0.268],[0.698,0.229],[0.695,0.244],[0.699,0.209],
[0.701,0.241],[0.704,0.227],[0.7,0.256],[0.703,0.238],[0.702,0.249],[0.705,0.218],[0.701,0.263],[0.703,0.233],[0.7,0.245],[0.704,0.274],
[0.708,0.234],[0.706,0.252],[0.709,0.226],[0.705,0.244],[0.707,0.237],[0.71,0.259],[0.706,0.221],[0.708,0.248],[0.705,0.231],[0.709,0.267],
[0.711,0.247],[0.714,0.231],[0.71,0.239],[0.713,0.256],[0.712,0.222],[0.715,0.243],[0.711,0.235],[0.713,0.264],[0.71,0.216],[0.714,0.251],
[0.718,0.229],[0.716,0.246],[0.719,0.238],[0.715,0.221],[0.717,0.253],[0.72,0.234],[0.716,0.242],[0.718,0.227],[0.715,0.261],[0.719,0.208],
[0.721,0.241],[0.724,0.225],[0.72,0.249],[0.723,0.233],[0.722,0.218],[0.725,0.245],[0.721,0.237],[0.723,0.257],[0.72,0.212],[0.724,0.229],
[0.728,0.236],[0.726,0.221],[0.729,0.244],[0.725,0.229],[0.727,0.252],[0.73,0.215],[0.726,0.239],[0.728,0.226],[0.725,0.248],[0.729,0.205],
[0.731,0.228],[0.734,0.242],[0.73,0.219],[0.733,0.235],[0.732,0.247],[0.735,0.224],[0.731,0.211],[0.733,0.238],[0.73,0.256],[0.734,0.231],
[0.738,0.241],[0.736,0.226],[0.739,0.234],[0.735,0.216],[0.737,0.249],[0.74,0.229],[0.736,0.237],[0.738,0.209],[0.735,0.222],[0.739,0.259],
[0.741,0.224],[0.744,0.238],[0.74,0.213],[0.743,0.231],[0.742,0.245],[0.745,0.219],[0.741,0.233],[0.743,0.227],[0.74,0.204],[0.744,0.252],
[0.748,0.232],[0.746,0.217],[0.749,0.241],[0.745,0.225],[0.747,0.209],[0.75,0.236],[0.746,0.221],[0.748,0.247],[0.745,0.228],
[0.751,0.219],[0.754,0.235],[0.75,0.226],[0.753,0.211],[0.752,0.241],[0.755,0.223],[0.751,0.231],[0.753,0.203],[0.75,0.248],
[0.758,0.228],[0.756,0.214],[0.759,0.237],[0.755,0.221],[0.757,0.206],[0.76,0.232],[0.756,0.218],[0.758,0.243],[0.755,0.225],
[0.761,0.216],[0.764,0.231],[0.76,0.222],[0.763,0.207],[0.762,0.236],[0.765,0.213],[0.761,0.227],[0.763,0.198],[0.76,0.244],
[0.768,0.224],[0.766,0.209],[0.769,0.233],[0.765,0.218],[0.767,0.201],[0.77,0.228],[0.766,0.214],[0.768,0.238],
[0.771,0.211],[0.774,0.226],[0.77,0.219],[0.773,0.204],[0.772,0.232],[0.775,0.215],[0.771,0.195],[0.773,0.221],
[0.778,0.219],[0.776,0.206],[0.779,0.227],[0.775,0.212],[0.777,0.198],[0.78,0.231],[0.776,0.208],
[0.781,0.208],[0.784,0.223],[0.78,0.214],[0.783,0.199],[0.782,0.226],[0.785,0.211],[0.781,0.218],
[0.788,0.215],[0.786,0.202],[0.789,0.221],[0.785,0.194],[0.787,0.209],[0.79,0.228],[0.786,0.205],
[0.791,0.204],[0.794,0.218],[0.79,0.197],[0.793,0.211],[0.792,0.223],[0.795,0.207],
[0.798,0.212],[0.796,0.199],[0.799,0.217],[0.795,0.191],[0.797,0.206],[0.8,0.221],
[0.801,0.201],[0.804,0.214],[0.8,0.195],[0.803,0.208],[0.802,0.187],[0.805,0.219],
[0.808,0.208],[0.806,0.193],[0.809,0.213],[0.805,0.199],[0.807,0.185],
[0.811,0.196],[0.814,0.209],[0.81,0.188],[0.813,0.203],[0.812,0.215],
[0.818,0.204],[0.816,0.191],[0.819,0.198],[0.815,0.182],[0.817,0.211],
[0.821,0.193],[0.824,0.207],[0.82,0.186],[0.823,0.199]];

const edgeB = [[0.602,0.284],[0.608,0.268],[0.613,0.291],[0.619,0.277],[0.624,0.263],[0.629,0.286],[0.634,0.272],[0.639,0.293],[0.644,0.279],[0.649,0.267],[0.654,0.288],[0.659,0.274],[0.664,0.295],[0.669,0.281],[0.674,0.268],[0.679,0.289],[0.684,0.275],[0.689,0.286],[0.694,0.271],[0.699,0.283],[0.606,0.197],[0.616,0.205],[0.627,0.211],[0.638,0.198],[0.649,0.206],[0.66,0.212],[0.671,0.199],[0.682,0.204],[0.693,0.192],[0.704,0.198],[0.71,0.188],[0.716,0.201],[0.722,0.192],[0.728,0.184],[0.734,0.199],[0.74,0.189],[0.746,0.196],[0.752,0.185],[0.758,0.199],[0.764,0.19],[0.77,0.183],[0.776,0.193],[0.782,0.186],[0.788,0.178],[0.794,0.189],[0.8,0.182],[0.806,0.175],[0.812,0.184],[0.818,0.17],[0.824,0.179],
[0.792,0.236],[0.797,0.228],[0.803,0.241],[0.808,0.224],[0.813,0.233],[0.818,0.221],[0.823,0.236],[0.828,0.214],[0.833,0.227],[0.837,0.218],[0.826,0.229],[0.816,0.227],[0.806,0.231],[0.799,0.242],[0.81,0.219]];

const upperB = [[0.586,0.296],[0.591,0.312],[0.594,0.287],[0.598,0.327],[0.601,0.301],[0.604,0.318],[0.606,0.289],[0.609,0.334],[0.612,0.305],[0.615,0.296],[0.617,0.321],[0.62,0.291],[0.622,0.343],[0.625,0.309],[0.627,0.298],[0.63,0.316],[0.632,0.331],[0.634,0.293],[0.637,0.305],[0.639,0.348],[0.642,0.289],[0.644,0.318],[0.646,0.301],[0.649,0.327],[0.651,0.294],[0.654,0.311],[0.656,0.339],[0.659,0.3],[0.661,0.322],[0.663,0.288],[0.666,0.309],[0.668,0.343],[0.671,0.297],[0.673,0.326],[0.676,0.305],[0.678,0.29],[0.681,0.315],[0.683,0.337],[0.686,0.298],[0.688,0.309],[0.691,0.286],[0.693,0.323],[0.696,0.295],[0.698,0.312],[0.701,0.289],[0.704,0.336],[0.706,0.301],[0.709,0.285],[0.711,0.318],[0.714,0.294],[0.716,0.309],[0.719,0.282],[0.721,0.325],[0.724,0.291],[0.727,0.303],[0.729,0.279],[0.732,0.315],[0.735,0.288],[0.738,0.298],[0.741,0.276],[0.744,0.305],[0.747,0.284],[0.75,0.293],[0.753,0.272],[0.756,0.299],[0.759,0.281],[0.763,0.268],[0.767,0.289],[0.771,0.276],[0.775,0.264],[0.779,0.283],[0.783,0.27],[0.787,0.261],[0.792,0.275],[0.796,0.258],[0.801,0.266],[0.806,0.253],[0.811,0.262],[0.816,0.249],[0.821,0.256],[0.826,0.243],[0.832,0.238],[0.838,0.247],[0.845,0.235],[0.852,0.229],[0.858,0.222],[0.864,0.214],[0.87,0.205],[0.876,0.197],[0.884,0.189]];

const highB = [[0.728,0.346],[0.735,0.348],[0.739,0.338],[0.766,0.321],[0.76,0.319],[0.789,0.318],[0.814,0.305],[0.76,0.306],[0.795,0.295],[0.797,0.285],[0.69,0.352],[0.695,0.351],[0.68,0.346],[0.653,0.341],[0.64,0.338],[0.661,0.335],[0.63,0.324],[0.683,0.327],[0.72,0.33],[0.705,0.322],[0.71,0.338],[0.745,0.312],[0.752,0.3],[0.775,0.29],[0.62,0.31],[0.635,0.31],[0.65,0.318],[0.672,0.315],[0.698,0.328],[0.757,0.288],[0.785,0.278],[0.806,0.27],[0.815,0.262]];

const lowB = [[0.73,0.162],[0.744,0.152],[0.751,0.166],[0.762,0.164],[0.765,0.156],[0.772,0.152],[0.779,0.162],[0.779,0.142],[0.788,0.146],[0.793,0.15],[0.8,0.156],[0.807,0.154],[0.814,0.154],[0.765,0.142],[0.768,0.14],[0.779,0.129],[0.793,0.127],[0.75,0.129],[0.76,0.129],[0.722,0.15],[0.737,0.158],[0.66,0.154],[0.65,0.17],[0.675,0.165],[0.69,0.18],[0.705,0.172],[0.72,0.185],[0.64,0.18],[0.625,0.172],[0.615,0.162],[0.695,0.158],[0.697,0.142],[0.715,0.166],[0.717,0.117],
[0.718,0.116],[0.726,0.086],[0.745,0.062],[0.718,0.028],[0.716,0.166],[0.749,0.131],[0.754,0.13],[0.795,0.12],[0.797,0.138],[0.8,0.106],[0.8,0.096],[0.8,0.081],[0.8,0.07],[0.8,0.053],[0.8,0.047],[0.806,0.09],[0.818,0.074],[0.818,0.071],[0.818,0.065],[0.818,0.055],[0.818,0.039],[0.819,0.021],[0.819,0.016],[0.819,0.011],[0.831,0.039],[0.818,0.105],[0.831,0.105],[0.844,0.079],[0.858,0.023],[0.879,0.057],[0.814,0.117],[0.84,0.12],
[0.603,0.188],[0.609,0.176],[0.614,0.194],[0.62,0.182],[0.626,0.191],[0.631,0.171],[0.637,0.186],[0.642,0.195],[0.648,0.179],[0.653,0.189],[0.659,0.168],[0.664,0.183],[0.67,0.192],[0.675,0.175],[0.681,0.186],[0.686,0.171],[0.692,0.184],[0.697,0.165],[0.703,0.178],[0.708,0.189],[0.713,0.172],[0.719,0.181],[0.724,0.163],[0.729,0.176],[0.735,0.187],[0.74,0.169],[0.746,0.179],[0.751,0.161],[0.757,0.173],[0.762,0.184],[0.768,0.166],[0.773,0.177],[0.779,0.158],[0.784,0.171],[0.79,0.181],[0.795,0.163],[0.801,0.174],[0.806,0.158],[0.812,0.169],[0.817,0.178],[0.823,0.161],[0.828,0.172],[0.834,0.155],[0.84,0.166],[0.846,0.158],[0.852,0.171],[0.858,0.162],[0.864,0.176],[0.87,0.188],[0.866,0.195]];

const rightTail = [[0.87,0.234],[0.86,0.238],[0.875,0.208],[0.881,0.196],[0.892,0.202],[0.894,0.185],[0.891,0.17],[0.898,0.187],[0.883,0.174],[0.867,0.178],[0.855,0.191],[0.849,0.182],[0.86,0.164],[0.873,0.17],[0.877,0.162],[0.882,0.162],[0.881,0.154],[0.873,0.146],[0.871,0.137],[0.867,0.131],[0.86,0.129],[0.849,0.127],[0.86,0.121],[0.869,0.111],[0.876,0.111],[0.884,0.105],[0.884,0.097],[0.894,0.101],[0.898,0.142],[0.901,0.135],[0.912,0.166],[0.922,0.166],[0.933,0.164],[0.906,0.158],[0.919,0.156],[0.931,0.162],[0.918,0.146],[0.926,0.137],[0.934,0.135],[0.931,0.129],[0.926,0.127],[0.94,0.125],[0.944,0.115],[0.945,0.111],[0.945,0.105],[0.912,0.113],[0.915,0.107],[0.919,0.103],[0.922,0.099],[0.913,0.09],[0.919,0.084],[0.915,0.076],[0.917,0.07],[0.919,0.066],[0.926,0.082],[0.933,0.076],[0.94,0.082],[0.948,0.082],[0.95,0.088],[0.946,0.073],[0.949,0.075],[0.959,0.092],[0.933,0.06],[0.937,0.058],[0.931,0.054],[0.927,0.055],[0.934,0.03],[0.957,0.029],[0.954,0.023],[0.944,0.011],[0.95,0.017],[0.961,0.017],[0.947,0.006],[0.968,0.033],[0.997,0.026],[0.934,0.024],[0.952,0.005]];

// ---- drawing ----
(function () {
const svg = d3.select("#chart");
const pL = 110, pR = 621.7, pT = 49.3, pB = 402.3;

const x = d3.scaleLinear().domain([-0.0231, 1.049]).range([pL, pR]);
const y = d3.scaleLinear().domain([-0.0216, 0.4132]).range([pB, pT]);

const allPoints = []
  .concat(zeroRowX.map(v => [v, 0]))
  .concat(leftSparse, clusterA, coreA, denseA, shoulderA, midLow, bridge, denseBridge, midHigh,
          clusterB, coreB, denseB, edgeB, upperB, highB, lowB, rightTail);

svg.append("g")
  .selectAll("circle")
  .data(allPoints)
  .join("circle")
  .attr("cx", d => x(d[0]))
  .attr("cy", d => y(d[1]))
  .attr("r", 1.25)
  .attr("fill", "#1f77b4");

const xAxis = d3.axisBottom(x).tickValues(xTicks).tickFormat(d3.format(".1f")).tickSize(4.9).tickPadding(4.9);
const yAxis = d3.axisLeft(y).tickValues(yTicks).tickFormat(d3.format(".2f")).tickSize(4.9).tickPadding(4.9);

const gx = svg.append("g").attr("transform", `translate(0,${pB})`).call(xAxis);
const gy = svg.append("g").attr("transform", `translate(${pL},0)`).call(yAxis);

[gx, gy].forEach(g => {
  g.select(".domain").remove();
  g.selectAll(".tick line").attr("stroke", "#000").attr("stroke-width", 1.1);
  g.selectAll(".tick text").attr("font-family", "DejaVu Sans").attr("font-size", 25).attr("fill", "#000");
});
gx.selectAll(".tick text").attr("dy", null).attr("y", 27.7);
gy.selectAll(".tick text").attr("dy", null).attr("y", 9.5).attr("x", -9.8);

svg.append("rect")
  .attr("x", pL).attr("y", pT)
  .attr("width", pR - pL).attr("height", pB - pT)
  .attr("fill", "none").attr("stroke", "#000").attr("stroke-width", 1.1);

svg.append("text")
  .attr("x", (pL + pR) / 2).attr("y", 40)
  .attr("text-anchor", "middle").attr("font-size", 33.3)
  .text(title);

svg.append("text")
  .attr("x", (pL + pR) / 2).attr("y", 460.5)
  .attr("text-anchor", "middle").attr("font-size", 25)
  .text(xLabel);

svg.append("text")
  .attr("transform", `translate(33.5,${(pT + pB) / 2}) rotate(-90)`)
  .attr("text-anchor", "middle").attr("font-size", 25)
  .text(yLabel);
})();
</script>
</body>
</html>
